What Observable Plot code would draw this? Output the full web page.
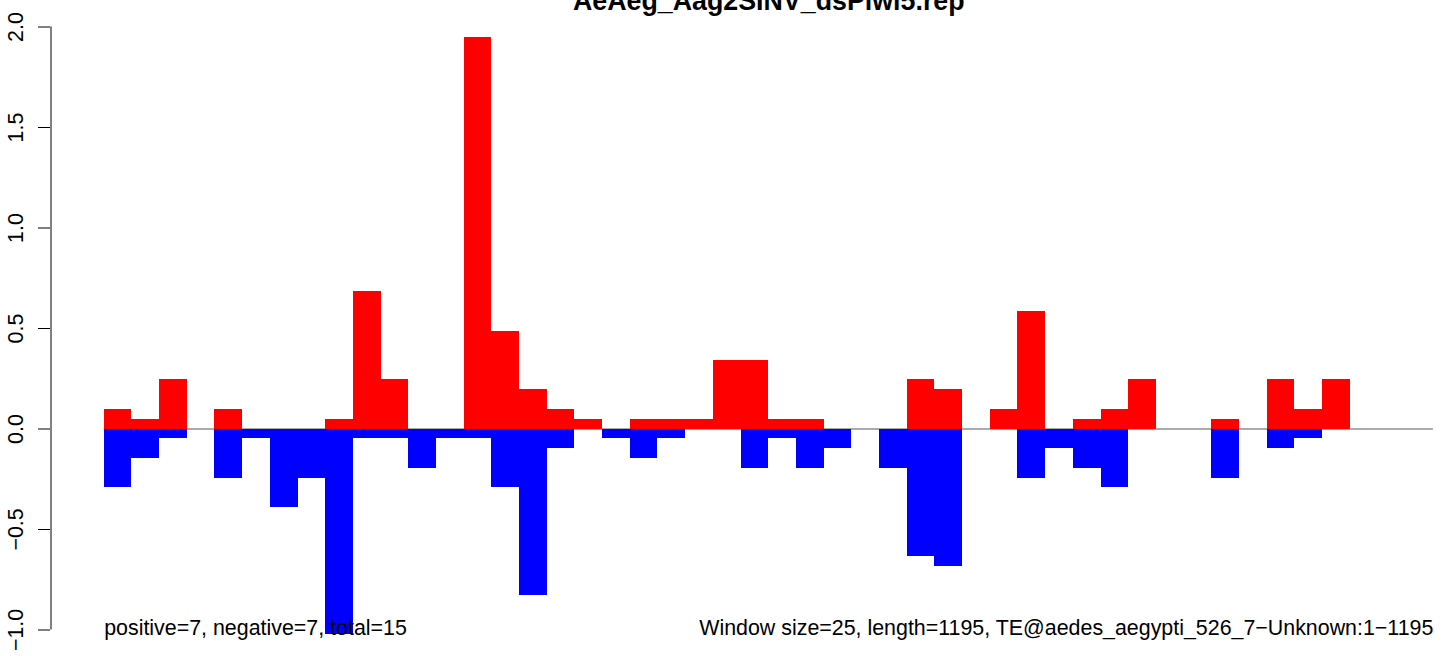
<!DOCTYPE html>
<html>
<head>
<meta charset="utf-8">
<script src="https://cdn.jsdelivr.net/npm/d3@7"></script>
<script src="https://cdn.jsdelivr.net/npm/@observablehq/plot@0.6"></script>
<style>
  html, body { margin: 0; padding: 0; background: #fff; overflow: hidden; }
  #chart svg { display: block; }
</style>
</head>
<body>
<div id="chart"></div>
<script>
// ---- data ----
const title = "AeAeg_Aag2SINV_dsPiwi5.rep";
const leftNote = "positive=7, negative=7, total=15";
const rightNote = "Window size=25, length=1195, TE@aedes_aegypti_526_7\u2212Unknown:1\u22121195";

const windows = [0,1,2,3,4,5,6,7,8,9,10,11,12,13,14,15,16,17,18,19,20,21,22,23,
                 24,25,26,27,28,29,30,31,32,33,34,35,36,37,38,39,40,41,42,43,44,45,46,47];

const positive = [0.097,0.049,0.244,0,0.097,0,0,0,0.049,0.682,0.244,0,0,1.948,0.487,0.195,
                  0.097,0.049,0,0.049,0.049,0.049,0.341,0.341,0.049,0.049,0,0,0,0.244,0.195,0,
                  0.097,0.584,0,0.049,0.097,0.244,0,0,0.049,0,0.244,0.097,0.244,0,0,0];

const negative = [-0.292,-0.146,-0.049,0,-0.244,-0.049,-0.390,-0.244,-1.023,-0.049,-0.049,-0.195,-0.049,-0.049,-0.292,-0.828,
                  -0.097,0,-0.049,-0.146,-0.049,0,0,-0.195,-0.049,-0.195,-0.097,0,-0.195,-0.633,-0.682,0,
                  0,-0.244,-0.097,-0.195,-0.292,0,0,0,-0.244,0,-0.097,-0.049,0,0,0,0];

const yTicks = [-1, -0.5, 0, 0.5, 1, 1.5, 2];

// ---- table built from the arrays ----
const table = windows.map((w, i) => ({w, pos: positive[i], neg: negative[i]}));
const nWin = windows.length;
const pad = 0.04 * nWin; // R-style 4% axis expansion
const xLeft = -pad, xRight = nWin + pad;

const font = "'Liberation Sans', Arial, Helvetica, sans-serif";

const chart = Plot.plot({
  width: 1444,
  height: 656,
  marginLeft: 50,
  marginRight: 0,
  marginTop: 0,
  marginBottom: 0,
  style: {fontFamily: font, fontSize: "21.4px", background: "#fff", color: "#000", overflow: "hidden"},
  x: {domain: [xLeft, xRight], range: [50.5, 1486], axis: null},
  y: {domain: [-1, 2], range: [629.5, 26.5]},
  marks: [
    Plot.ruleY([0], {x1: 0, x2: nWin, stroke: "#8f8f8f", strokeWidth: 1.4}),
    Plot.rectY(table.filter(d => d.pos !== 0), {x1: "w", x2: d => d.w + 1, y1: 0, y2: "pos", fill: "#ff0000", shapeRendering: "crispEdges"}),
    Plot.rectY(table.filter(d => d.neg !== 0), {x1: "w", x2: d => d.w + 1, y1: 0, y2: "neg", fill: "#0000ff", shapeRendering: "crispEdges"}),
    Plot.ruleX([xLeft], {y1: yTicks[0], y2: yTicks[yTicks.length - 1], stroke: "#000", strokeWidth: 1}),
    Plot.axisY({
      anchor: "left",
      ticks: yTicks,
      tickSize: 12,
      tickPadding: 16,
      tickRotate: -90,
      tickFormat: d3.format(".1f"),
      fontSize: 21.4,
      stroke: "#000",
      strokeWidth: 1,
      label: null
    }),
    Plot.text([title], {x: (xLeft + xRight) / 2, frameAnchor: "top", dy: 1, text: d => d, fontWeight: "bold", fontSize: 26.8, textAnchor: "middle", lineAnchor: "middle", fill: "#000"}),
    Plot.text([leftNote], {x: 0, frameAnchor: "bottom", dy: -28, text: d => d, textAnchor: "start", lineAnchor: "middle", fontSize: 21.4, fill: "#000"}),
    Plot.text([rightNote], {x: nWin, frameAnchor: "bottom", dy: -28, text: d => d, textAnchor: "end", lineAnchor: "middle", fontSize: 21.4, fill: "#000"})
  ]
});
document.getElementById("chart").appendChild(chart);
</script>
</body>
</html>
